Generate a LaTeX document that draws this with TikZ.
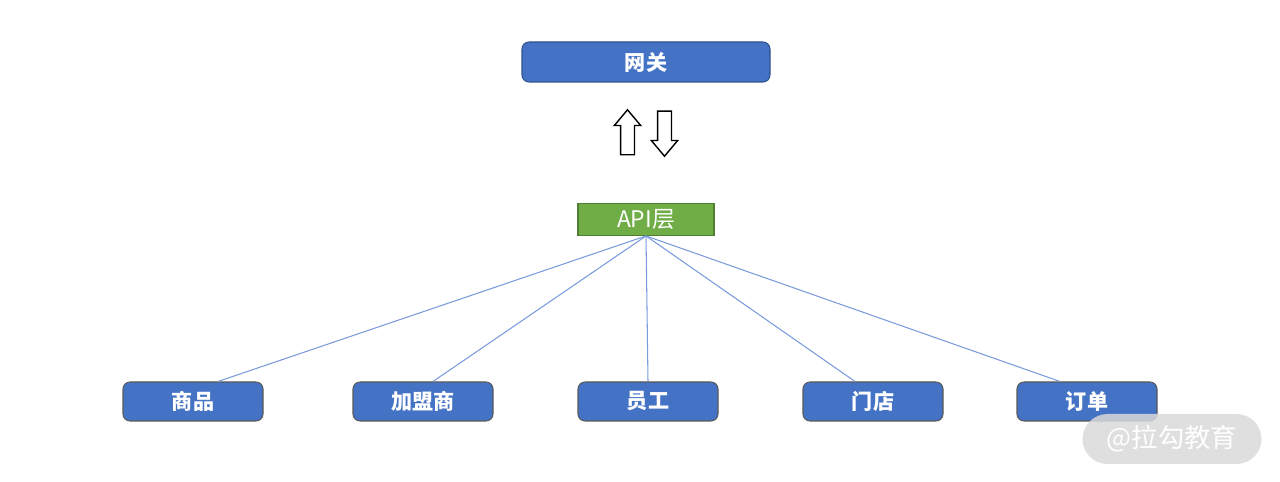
\documentclass[tikz,border=0pt]{standalone}
\usepackage{fontspec}
\setmainfont{Noto Sans CJK SC}
\usepackage{xcolor}
\usepackage{tikz}
\usetikzlibrary{shapes.arrows}
\definecolor{boxblue}{HTML}{4472C4}
\definecolor{boxedge}{HTML}{2F528F}
\definecolor{apigreen}{HTML}{70AD47}
\definecolor{apiedge}{HTML}{507E32}
\definecolor{linkblue}{HTML}{7A9BDB}
\tikzstyle{module} = [rectangle, rounded corners=4pt, minimum width=2.8cm, minimum height=0.78cm, text centered, draw=black!65, line width=0.6pt, fill=boxblue, text=white, font=\bfseries\fontsize{12}{14}\selectfont]
\tikzstyle{gateway} = [module, minimum width=4.96cm, minimum height=0.8cm, draw=boxedge]
\tikzstyle{layer} = [rectangle, minimum width=2.72cm, minimum height=0.62cm, draw=apiedge, line width=0.6pt, fill=apigreen, text=white, font=\fontsize{13}{15}\selectfont]
\tikzstyle{link} = [draw=linkblue, line width=0.6pt]
\tikzstyle{flow} = [single arrow, draw=black, fill=white, line width=0.8pt, minimum height=0.9cm, inner sep=0.125cm, single arrow head extend=0.125cm, single arrow tip angle=80, anchor=tail]
\tikzstyle{stamp} = [rectangle, rounded corners=0.5cm, minimum width=3.58cm, minimum height=1cm, fill=black!15, fill opacity=0.85, text opacity=1, text=white, font=\fontsize{15}{17}\selectfont]

\begin{document}
\begin{tikzpicture}
    \useasboundingbox (0,0) rectangle (25.6,9.64);
    \node (gw) [gateway] at (12.92,8.40) {网关};
    \node (up) [flow, shape border rotate=90] at (12.55,6.53) {};
    \node (down) [flow, shape border rotate=270] at (13.29,7.43) {};
    \node (api) [layer] at (12.92,5.25) {API层};
    \node (goods) [module] at (3.86,1.61) {商品};
    \node (franchise) [module] at (8.46,1.61) {加盟商};
    \node (staff) [module] at (12.96,1.61) {员工};
    \node (store) [module] at (17.46,1.61) {门店};
    \node (order) [module] at (21.74,1.61) {订单};
    \draw [link] (api.south) -- ([xshift=0.5cm]goods.north);
    \draw [link] (api.south) -- ([xshift=0.2cm]franchise.north);
    \draw [link] (api.south) -- (staff.north);
    \draw [link] (api.south) -- ([xshift=-0.36cm]store.north);
    \draw [link] (api.south) -- ([xshift=-0.54cm]order.north);
    \node (mark) [stamp] at (23.44,0.86) {@拉勾教育};
\end{tikzpicture}
\end{document}
